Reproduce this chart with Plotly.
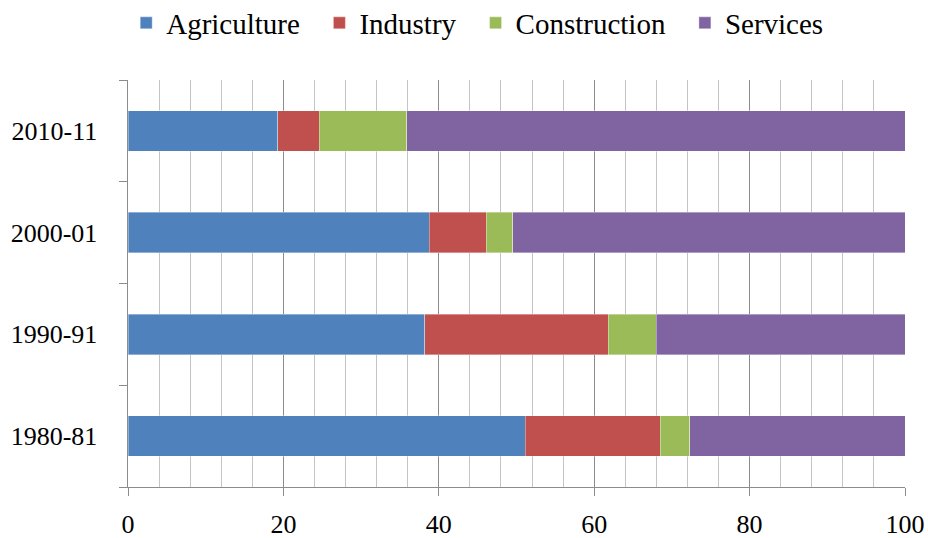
import plotly.graph_objects as go

years = ["1980-81", "1990-91", "2000-01", "2010-11"]
agriculture = [51.1, 38.2, 38.8, 19.3]
industry = [17.4, 23.6, 7.3, 5.3]
construction = [3.8, 6.2, 3.4, 11.3]
services = [27.7, 32.0, 50.5, 64.1]

series = [
    ("Agriculture", agriculture, "#4F81BD"),
    ("Industry", industry, "#C0504D"),
    ("Construction", construction, "#9BBB59"),
    ("Services", services, "#8064A2"),
]

FONT = "Liberation Serif"
PAD = "\u00a0\u00a0"

fig = go.Figure()
for name, vals, col in series:
    fig.add_trace(go.Bar(
        y=years, x=vals, name=name + PAD, orientation="h",
        marker=dict(color=col, line=dict(width=0.6, color="rgba(255,255,255,0.6)")),
    ))

fig.update_layout(
    barmode="stack",
    bargap=0.6,
    width=928, height=538,
    autosize=False,
    margin=dict(l=128, r=23, t=80, b=51),
    plot_bgcolor="white", paper_bgcolor="white",
    font=dict(family=FONT, size=26, color="black"),
    legend=dict(orientation="h", xref="container", yref="container",
                x=0.136, xanchor="left", y=1 - 23 / 538, yanchor="middle",
                font=dict(family=FONT, size=29), itemwidth=30,
                traceorder="normal"),
    showlegend=True,
)
fig.update_xaxes(
    range=[0, 100], dtick=20, tick0=0, automargin=False,
    showgrid=True, gridcolor="#8c8c8c", gridwidth=1,
    minor=dict(dtick=4, showgrid=True, gridcolor="#c4c4c4", gridwidth=1),
    showline=True, linecolor="#8c8c8c", linewidth=1,
    ticks="outside", ticklen=8, tickcolor="#8c8c8c",
    tickfont=dict(family=FONT, size=26), zeroline=False,
    ticklabelstandoff=6,
)
fig.update_yaxes(
    type="category", tickson="boundaries", automargin=False,
    showline=True, linecolor="#8c8c8c", linewidth=1,
    ticks="outside", ticklen=8, tickcolor="#8c8c8c",
    showgrid=False, tickfont=dict(family=FONT, size=26),
    ticksuffix="   ", ticklabelstandoff=5,
)

fig.write_html(
    "out.html",
    config={"responsive": False, "displayModeBar": False},
    post_script="document.body.style.margin='0';document.body.style.overflow='hidden';",
)
